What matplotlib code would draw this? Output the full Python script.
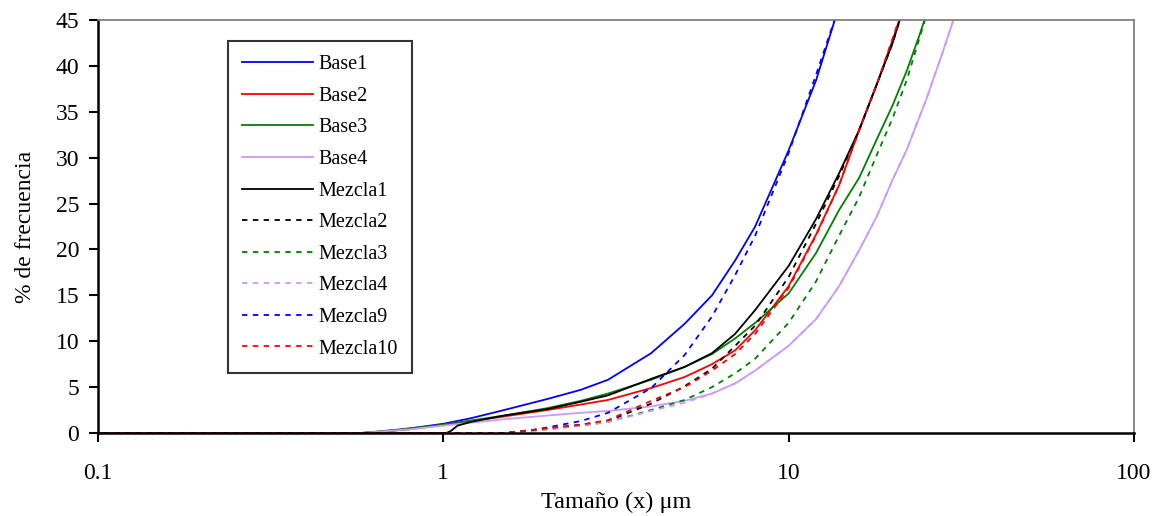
import matplotlib
matplotlib.use("Agg")
import matplotlib.pyplot as plt

plt.rcParams['font.family'] = ['Liberation Serif', 'DejaVu Serif']

# Curvas (tamaño en um, % de frecuencia)
base1_x = [0.1, 0.58, 0.7, 0.8, 1.0, 1.2, 1.5, 2, 2.5, 3, 4, 5, 6, 7, 8, 10, 12, 14]
base1_y = [0, 0, 0.2, 0.5, 1.0, 1.6, 2.5, 3.7, 4.7, 5.8, 8.7, 11.9, 15.0, 18.8, 22.5, 30.8, 38.4, 46.5]

base2_x = [0.1, 0.58, 0.8, 1, 1.5, 2, 2.5, 3, 4, 5, 6, 7, 8, 10, 12, 14, 16, 18, 20, 22]
base2_y = [0, 0, 0.4, 0.9, 1.8, 2.5, 3.1, 3.6, 4.9, 6.1, 7.5, 9.0, 11.2, 16.0, 21.6, 27.0, 33.0, 38.0, 42.8, 47.5]

base3_x = [0.1, 0.58, 0.8, 1, 1.5, 2, 2.5, 3, 4, 5, 6, 7, 8, 10, 12, 14, 16, 18, 20, 22, 24, 26]
base3_y = [0, 0, 0.5, 0.9, 1.9, 2.7, 3.5, 4.3, 5.8, 7.2, 8.6, 10.3, 12.0, 15.2, 19.6, 24.3, 27.8, 32.0, 35.7, 39.5, 43.5, 47.5]

base4_x = [0.1, 0.58, 0.8, 1, 1.5, 2, 2.5, 3, 4, 5, 6, 7, 8, 10, 12, 14, 16, 18, 20, 22, 25, 28, 30, 32]
base4_y = [0, 0, 0.4, 0.8, 1.5, 1.9, 2.2, 2.4, 2.9, 3.5, 4.3, 5.4, 6.8, 9.5, 12.4, 16.0, 19.9, 23.6, 27.6, 30.9, 36.3, 41.6, 45.0, 48.0]

mezcla1_x = [0.1, 1.02, 1.05, 1.1, 1.2, 1.5, 2, 2.5, 3, 4, 5, 6, 7, 8, 10, 12, 14, 16, 18, 20, 22]
mezcla1_y = [0, 0, 0.2, 0.8, 1.2, 1.9, 2.6, 3.4, 4.1, 5.9, 7.2, 8.7, 10.8, 13.4, 18.2, 23.3, 28.3, 33.0, 38.0, 42.5, 47.5]

mezcla2_x = [0.1, 1.5, 2, 2.5, 3, 4, 5, 6, 7, 8, 10, 12, 14, 16, 18, 20, 22]
mezcla2_y = [0, 0, 0.5, 0.9, 1.3, 3.2, 5.1, 7.0, 9.5, 11.7, 17.0, 22.8, 28.0, 33.0, 38.0, 42.5, 47.5]

mezcla3_x = [0.1, 1.5, 2, 2.5, 3, 4, 5, 6, 7, 8, 10, 12, 14, 16, 18, 20, 22, 24, 26]
mezcla3_y = [0, 0, 0.4, 0.8, 1.2, 2.5, 3.6, 5.0, 6.5, 8.1, 12.0, 16.5, 21.5, 25.7, 30.3, 34.3, 38.5, 43.2, 47.5]

mezcla4_x = [0.1, 1.5, 2, 2.5, 3, 4, 5, 6, 7, 8, 10, 12, 14, 16, 18, 20, 22, 25, 28, 30, 32]
mezcla4_y = [0, 0, 0.4, 0.8, 1.2, 2.4, 3.3, 4.3, 5.4, 6.8, 9.5, 12.4, 16.0, 19.9, 23.6, 27.6, 30.9, 36.3, 41.6, 45.0, 48.0]

mezcla9_x = [0.1, 1.5, 1.8, 2, 2.5, 3, 4, 5, 6, 7, 8, 10, 12, 14]
mezcla9_y = [0, 0, 0.3, 0.6, 1.3, 2.2, 4.9, 8.5, 12.7, 17.2, 21.5, 30.5, 39.0, 46.5]

mezcla10_x = [0.1, 1.5, 2, 2.5, 3, 4, 5, 6, 7, 8, 10, 12, 14, 16, 18, 20, 22]
mezcla10_y = [0, 0, 0.5, 0.9, 1.4, 3.5, 5.0, 6.8, 8.6, 10.8, 15.8, 21.5, 27.0, 33.0, 38.0, 43.0, 47.5]

x_ticks = [0.1, 1, 10, 100]
x_tick_labels = ["0.1", "1", "10", "100"]
y_ticks = [0, 5, 10, 15, 20, 25, 30, 35, 40, 45]

BLUE = "#0000FF"
RED = "#FF0000"
GREEN = "#008000"
LAVENDER = "#CC99FF"
BLACK = "#000000"

series = [
    ("Base1", base1_x, base1_y, BLUE, "-"),
    ("Base2", base2_x, base2_y, RED, "-"),
    ("Base3", base3_x, base3_y, GREEN, "-"),
    ("Base4", base4_x, base4_y, LAVENDER, "-"),
    ("Mezcla1", mezcla1_x, mezcla1_y, BLACK, "-"),
    ("Mezcla2", mezcla2_x, mezcla2_y, BLACK, "--"),
    ("Mezcla3", mezcla3_x, mezcla3_y, GREEN, "--"),
    ("Mezcla4", mezcla4_x, mezcla4_y, LAVENDER, "--"),
    ("Mezcla9", mezcla9_x, mezcla9_y, BLUE, "--"),
    ("Mezcla10", mezcla10_x, mezcla10_y, RED, "--"),
]

fig = plt.figure(figsize=(11.55, 5.16), dpi=100)
ax = fig.add_axes([0.0848, 0.1609, 0.897, 0.8003])

for name, xs, ys, color, style in series:
    if style == "--":
        ax.plot(xs, ys, color=color, lw=1.3, linestyle=(0, (3, 3)), label=name)
    else:
        ax.plot(xs, ys, color=color, lw=1.3, label=name)

ax.set_xscale("log")
ax.set_xlim(0.1, 100)
ax.set_ylim(0, 45)
ax.set_xticks(x_ticks)
ax.set_xticklabels(x_tick_labels)
ax.xaxis.set_minor_locator(matplotlib.ticker.NullLocator())
ax.set_yticks(y_ticks)

ax.tick_params(axis="both", labelsize=17, length=6.5, width=1.5, direction="out")
ax.tick_params(axis="y", pad=7)
ax.tick_params(axis="x", pad=15)

for side in ["left", "bottom"]:
    ax.spines[side].set_linewidth(1.8)
    ax.spines[side].set_color("black")
for side in ["top", "right"]:
    ax.spines[side].set_linewidth(1.3)
    ax.spines[side].set_color("#808080")

ax.set_xlabel("Tamaño (x) μm", fontsize=17.5, labelpad=6)
ax.set_ylabel("% de frecuencia", fontsize=17, labelpad=14)

leg = ax.legend(loc="upper left", bbox_to_anchor=(0.1255, 0.949), borderaxespad=0,
                fontsize=14.5, frameon=True, fancybox=False, edgecolor="black",
                handlelength=3.5, handletextpad=0.3, labelspacing=0.62,
                borderpad=0.7)
leg.get_frame().set_linewidth(1.5)

fig.savefig("out.png", dpi=100)
